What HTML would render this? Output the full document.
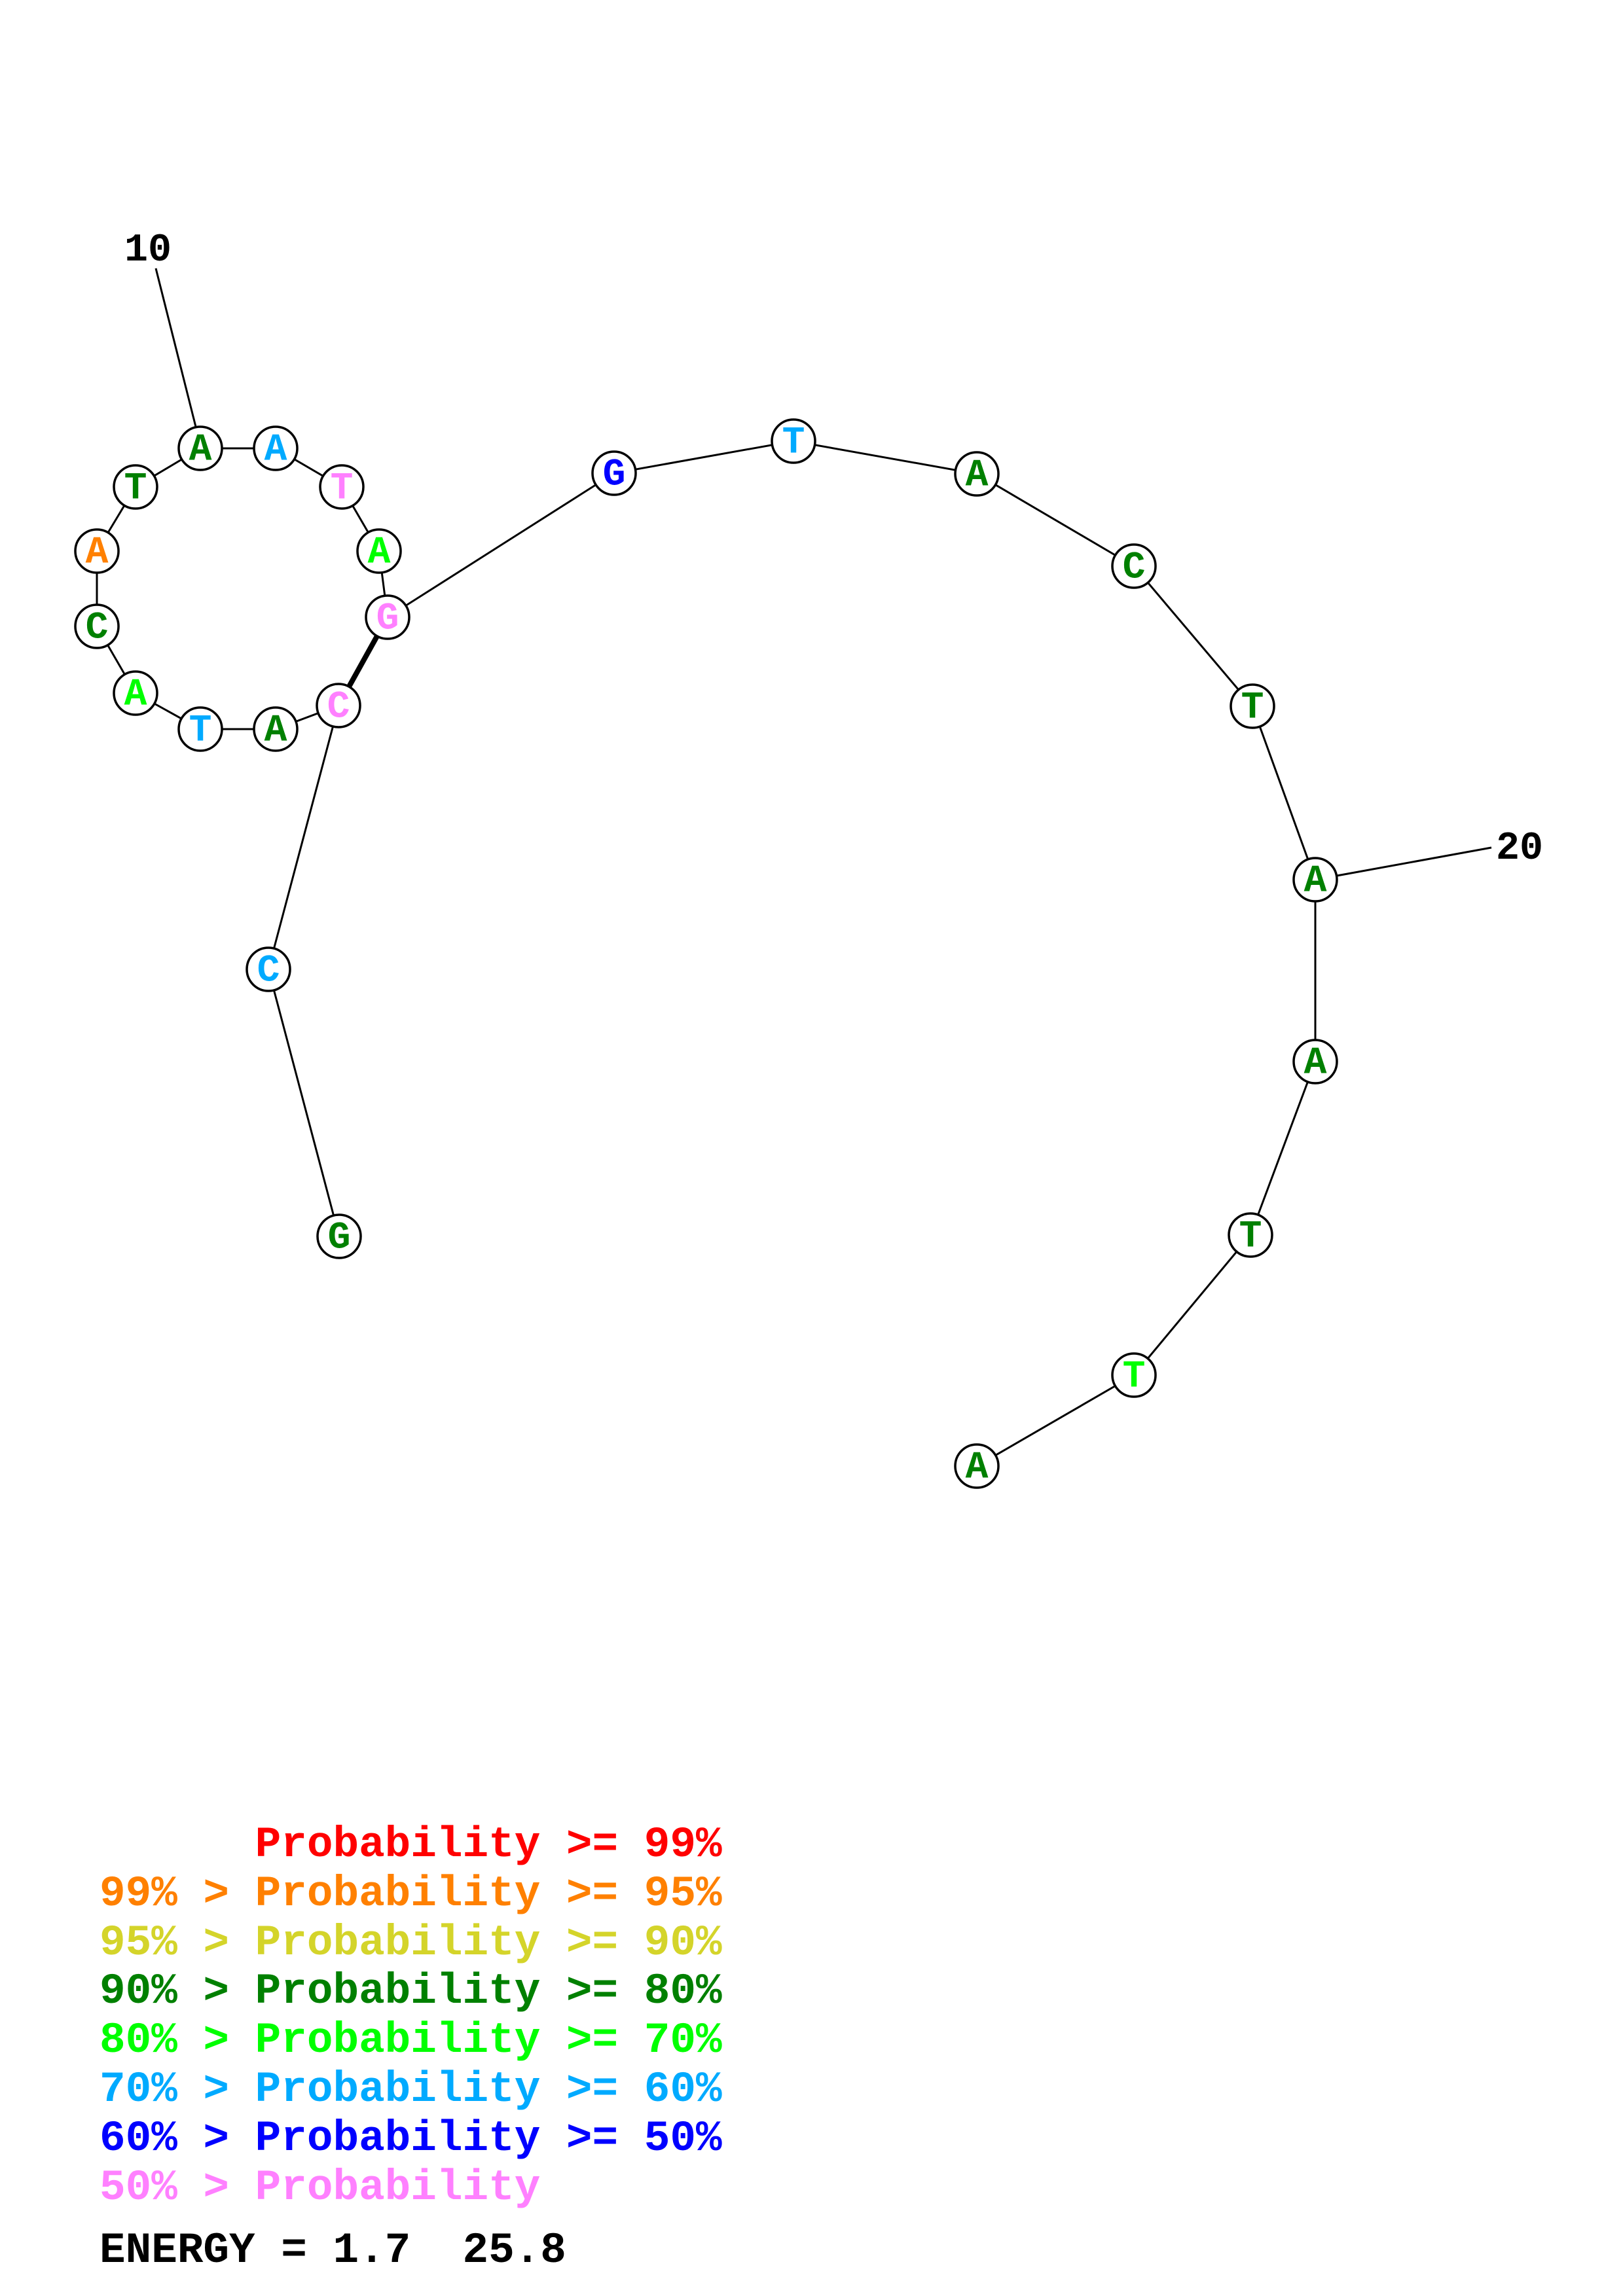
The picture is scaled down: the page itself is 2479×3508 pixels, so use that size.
<!DOCTYPE html>
<html><head><meta charset="utf-8"><style>html,body{margin:0;padding:0;background:#fff}svg{display:block}</style></head>
<body>
<svg width="2479" height="3508" viewBox="0 0 2479 3508" xmlns="http://www.w3.org/2000/svg">
<rect width="2479" height="3508" fill="#fff"/>
<g stroke="#000" stroke-width="3" fill="none">
<polyline points="518,1889 410,1481 517,1078 421,1114 306,1114 207,1059 148,957 148,842 207,744 306,685 421,685 522,744 579,842 592,943 938,723 1212,674 1492,724 1732,865 1913,1079 2009,1344 2009,1622 1910,1887 1732,2101 1492,2240"/>
<line x1="238" y1="410" x2="299" y2="652"/>
<line x1="2009" y1="1344" x2="2278" y2="1295"/>
<line x1="592" y1="943" x2="517" y2="1078" stroke-width="8"/>
</g>
<g font-family="Liberation Mono, monospace" font-weight="bold" font-size="60" fill="#000">
<text x="226" y="398" text-anchor="middle">10</text>
<text x="2321" y="1312" text-anchor="middle">20</text>
</g>
<g font-family="Liberation Mono, monospace" font-weight="bold" font-size="58" text-anchor="middle" dominant-baseline="central" stroke="#000" stroke-width="3.5">
<g fill="#fff">
<circle cx="518" cy="1889" r="33"/><circle cx="410" cy="1481" r="33"/><circle cx="517" cy="1078" r="33"/><circle cx="421" cy="1114" r="33"/><circle cx="306" cy="1114" r="33"/><circle cx="207" cy="1059" r="33"/><circle cx="148" cy="957" r="33"/><circle cx="148" cy="842" r="33"/><circle cx="207" cy="744" r="33"/><circle cx="306" cy="685" r="33"/><circle cx="421" cy="685" r="33"/><circle cx="522" cy="744" r="33"/><circle cx="579" cy="842" r="33"/><circle cx="592" cy="943" r="33"/><circle cx="938" cy="723" r="33"/><circle cx="1212" cy="674" r="33"/><circle cx="1492" cy="724" r="33"/><circle cx="1732" cy="865" r="33"/><circle cx="1913" cy="1079" r="33"/><circle cx="2009" cy="1344" r="33"/><circle cx="2009" cy="1622" r="33"/><circle cx="1910" cy="1887" r="33"/><circle cx="1732" cy="2101" r="33"/><circle cx="1492" cy="2240" r="33"/>
</g>
<g stroke="none">
<text x="518" y="1892" fill="#008000">G</text>
<text x="410" y="1484" fill="#00aaff">C</text>
<text x="517" y="1081" fill="#ff80ff">C</text>
<text x="421" y="1117" fill="#008000">A</text>
<text x="306" y="1117" fill="#00aaff">T</text>
<text x="207" y="1062" fill="#00ff00">A</text>
<text x="148" y="960" fill="#008000">C</text>
<text x="148" y="845" fill="#ff8000">A</text>
<text x="207" y="747" fill="#008000">T</text>
<text x="306" y="688" fill="#008000">A</text>
<text x="421" y="688" fill="#00aaff">A</text>
<text x="522" y="747" fill="#ff80ff">T</text>
<text x="579" y="845" fill="#00ff00">A</text>
<text x="592" y="946" fill="#ff80ff">G</text>
<text x="938" y="726" fill="#0000ff">G</text>
<text x="1212" y="677" fill="#00aaff">T</text>
<text x="1492" y="727" fill="#008000">A</text>
<text x="1732" y="868" fill="#008000">C</text>
<text x="1913" y="1082" fill="#008000">T</text>
<text x="2009" y="1347" fill="#008000">A</text>
<text x="2009" y="1625" fill="#008000">A</text>
<text x="1910" y="1890" fill="#008000">T</text>
<text x="1732" y="2104" fill="#00ff00">T</text>
<text x="1492" y="2243" fill="#008000">A</text>
</g>
</g>
<g font-family="Liberation Mono, monospace" font-weight="bold" font-size="66">
<text x="152" y="2836" fill="#ff0000">&#160;&#160;&#160;&#160;&#160;&#160;Probability &gt;= 99%</text>
<text x="152" y="2911" fill="#ff8000">99% &gt; Probability &gt;= 95%</text>
<text x="152" y="2986" fill="#d4d42a">95% &gt; Probability &gt;= 90%</text>
<text x="152" y="3060" fill="#008000">90% &gt; Probability &gt;= 80%</text>
<text x="152" y="3135" fill="#00ff00">80% &gt; Probability &gt;= 70%</text>
<text x="152" y="3210" fill="#00aaff">70% &gt; Probability &gt;= 60%</text>
<text x="152" y="3285" fill="#0000ff">60% &gt; Probability &gt;= 50%</text>
<text x="152" y="3360" fill="#ff80ff">50% &gt; Probability</text>
<text x="152" y="3456" fill="#000">ENERGY = 1.7&#160;&#160;25.8</text>
</g>
</svg>
</body></html>
